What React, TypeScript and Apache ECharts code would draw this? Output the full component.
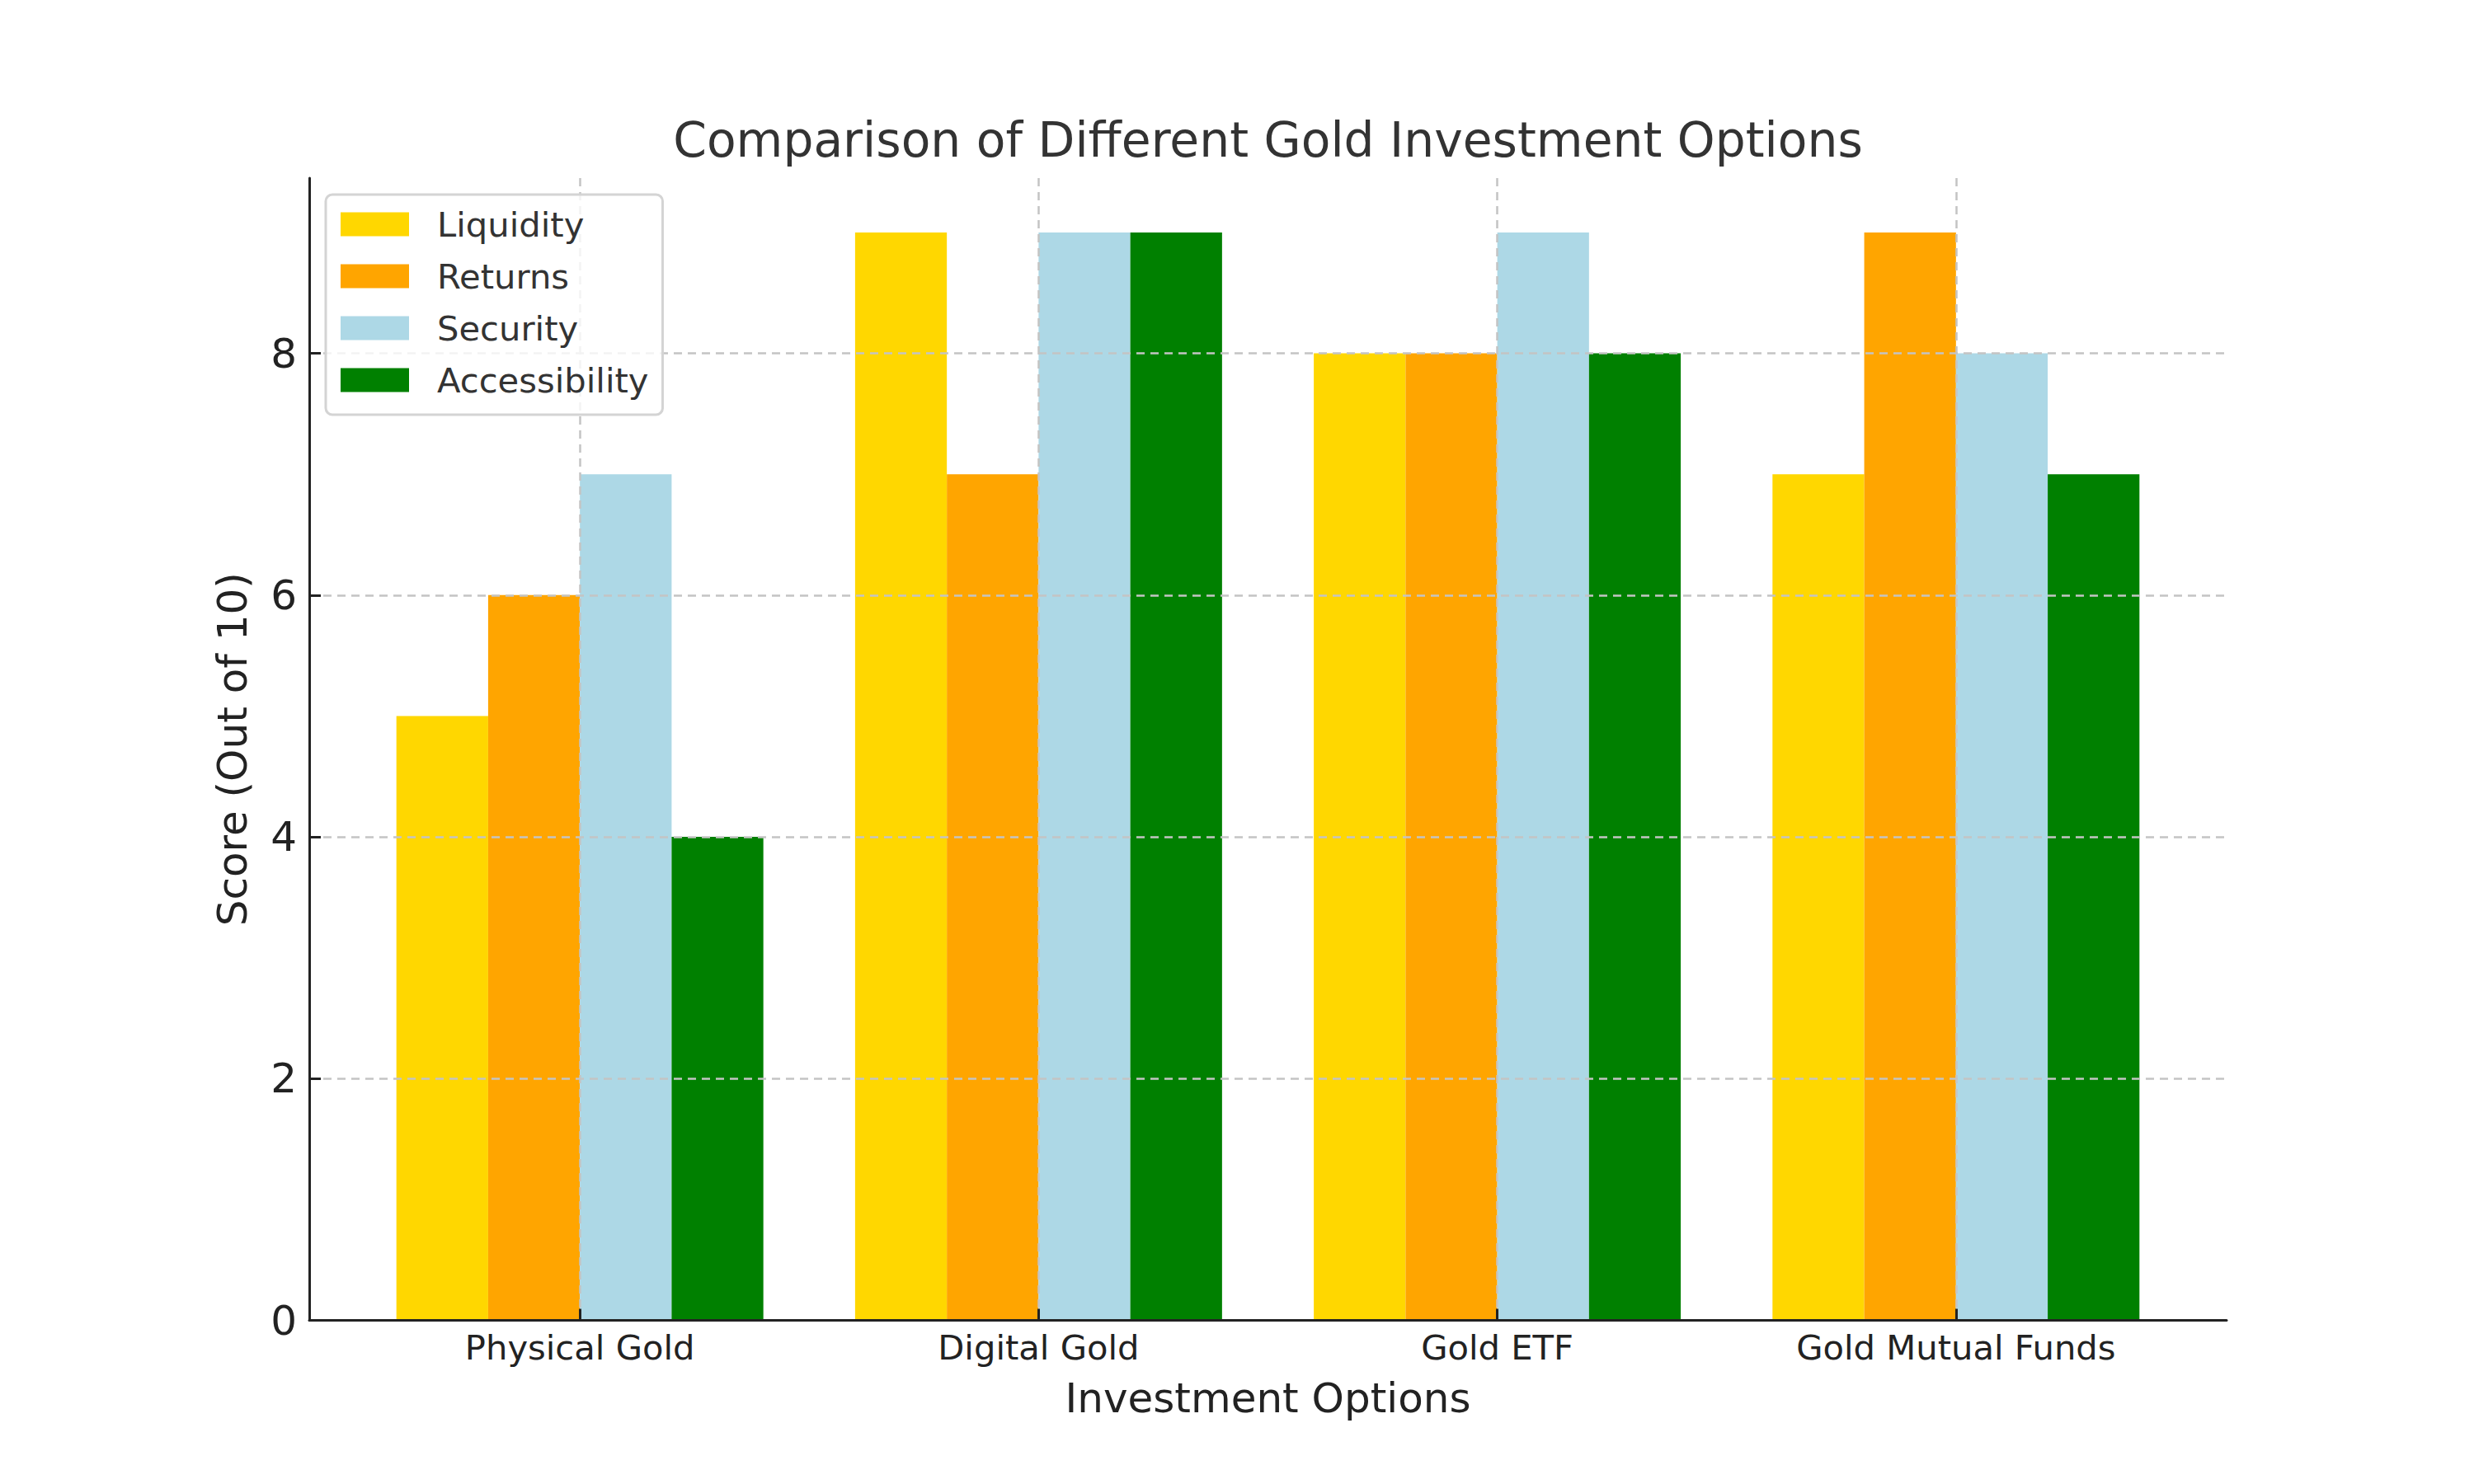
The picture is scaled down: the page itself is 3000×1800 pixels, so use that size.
import React, { useEffect, useRef } from 'react';
import * as echarts from 'echarts';

const categories = ['Physical Gold', 'Digital Gold', 'Gold ETF', 'Gold Mutual Funds'];
const metricNames = ['Liquidity', 'Returns', 'Security', 'Accessibility'];
const liquidity = [5, 9, 8, 7];
const returns = [6, 7, 8, 9];
const security = [7, 9, 9, 8];
const accessibility = [4, 9, 8, 7];
const yTicks = [0, 2, 4, 6, 8];
const xTicks = [0, 1, 2, 3];
const colors = ['#FFD700', '#FFA500', '#ADD8E6', '#008000'];

const FONT = '"DejaVu Sans", sans-serif';
const BAR_W = 0.2;

export default function App() {
  const ref = useRef<HTMLDivElement>(null);
  useEffect(() => {
    document.body.style.margin = '0';
    const chart = echarts.init(ref.current!, null, { renderer: 'svg' });
    const seriesValues = [liquidity, returns, security, accessibility];
    const n = seriesValues.length;
    const gridLine = { show: true, lineStyle: { color: '#c4c4c4', width: 2.5, type: [10, 7] } };
    const option: any = {
      animation: false,
      backgroundColor: '#ffffff',
      title: {
        text: 'Comparison of Different Gold Investment Options',
        left: 1537.5,
        top: 140.5,
        padding: 0,
        textAlign: 'center',
        textStyle: { fontFamily: FONT, fontSize: 58.3, fontWeight: 'normal', color: '#333333' },
      },
      legend: {
        orient: 'vertical',
        left: 395,
        top: 236,
        padding: [15, 17, 21, 18],
        itemGap: 21,
        itemWidth: 83,
        itemHeight: 29,
        icon: 'rect',
        data: metricNames,
        textStyle: { fontFamily: FONT, fontSize: 41.7, color: '#333333', padding: [0, 0, 0, 29] },
        borderColor: '#d4d4d4',
        borderWidth: 3,
        borderRadius: 8,
        backgroundColor: 'rgba(255,255,255,0.8)',
      },
      grid: { left: 375, right: 300, top: 216, bottom: 198.5, containLabel: false },
      xAxis: {
        type: 'value',
        min: -0.59,
        max: 3.59,
        z: 3,
        name: 'Investment Options',
        nameLocation: 'middle',
        nameGap: 69,
        nameTextStyle: { fontFamily: FONT, fontSize: 50, color: '#222222' },
        axisLine: { show: true, onZero: false, lineStyle: { color: '#222222', width: 3 } },
        axisTick: { show: true, inside: true, length: 14, customValues: xTicks, lineStyle: { color: '#222222', width: 3 } },
        axisLabel: {
          customValues: xTicks,
          margin: 12,
          fontFamily: FONT,
          fontSize: 41.7,
          color: '#222222',
          formatter: (v: number) => categories[Math.round(v)] ?? '',
        },
        splitLine: gridLine,
      },
      yAxis: {
        type: 'value',
        min: 0,
        max: 9.45,
        z: 3,
        name: 'Score (Out of 10)',
        nameLocation: 'middle',
        nameRotate: 90,
        nameGap: 68,
        nameTextStyle: { fontFamily: FONT, fontSize: 50, color: '#222222' },
        axisLine: { show: true, onZero: false, lineStyle: { color: '#222222', width: 3 } },
        axisTick: { show: true, inside: true, length: 14, customValues: yTicks, lineStyle: { color: '#222222', width: 3 } },
        axisLabel: {
          customValues: yTicks,
          margin: 15,
          fontFamily: FONT,
          fontSize: 50,
          color: '#222222',
        },
        splitLine: gridLine,
      },
      series: seriesValues.map((vals, si) => ({
        type: 'custom',
        name: metricNames[si],
        z: 1,
        itemStyle: { color: colors[si] },
        encode: { x: 0, y: 1 },
        data: vals.map((v, i) => [i, v]),
        renderItem: (params: any, api: any) => {
          const xi = api.value(0);
          const yv = api.value(1);
          const center = xi + (si - (n - 1) / 2) * BAR_W;
          const tl = api.coord([center - BAR_W / 2, yv]);
          const br = api.coord([center + BAR_W / 2, 0]);
          return {
            type: 'rect',
            shape: { x: tl[0], y: tl[1], width: br[0] - tl[0], height: br[1] - tl[1] },
            style: { fill: colors[si] },
          };
        },
      })),
    };
    chart.setOption(option);
    return () => chart.dispose();
  }, []);
  return <div ref={ref} style={{ width: 3000, height: 1800 }} />;
}
